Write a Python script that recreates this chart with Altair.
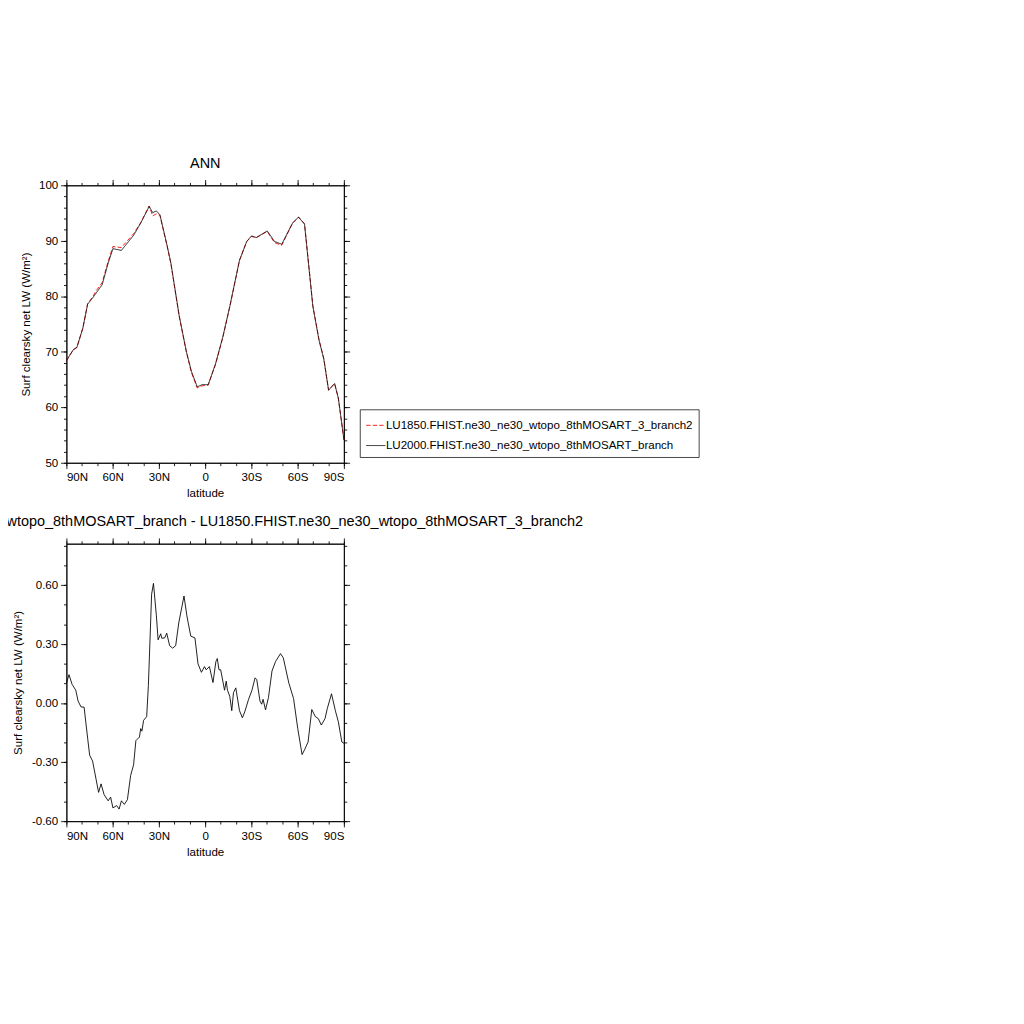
import altair as alt
import pandas as pd

lat_top = [90, 85.6, 83.3, 79.4, 76.3, 73.1, 70.8, 66.9, 63, 59.9, 54.4, 46.5, 41.9, 36.4, 34.1, 31.7, 29.4,
           24.7, 22.3, 16.9, 12.2, 9.0, 5.2, 2.0, -1.9, -6.6, -11.3, -15.9, -22.2, -26.9, -30, -33.1, -40.2,
           -44.9, -49.6, -56.6, -60.5, -64.4, -69.8, -73.8, -76.9, -80.0, -83.9, -86.3, -90]
lu2000 = [68.45, 70.4, 70.8, 74.3, 78.6, 79.7, 80.6, 82.1, 86.0, 88.6, 88.3, 91.0, 93.2, 96.2, 95.1, 95.4, 94.7,
          89.1, 86.0, 76.5, 70.0, 66.5, 63.7, 64.1, 64.1, 67.8, 72.6, 78.2, 86.5, 89.9, 90.9, 90.6, 91.8,
          89.9, 89.4, 93.2, 94.3, 93.0, 78.2, 72.1, 68.7, 63.1, 64.3, 61.7, 54.1]
lu1850 = [68.45, 70.4, 70.8, 74.3, 78.7, 79.9, 81.0, 82.5, 86.3, 89.0, 88.8, 91.3, 93.3, 96.3, 94.5, 94.9, 94.6,
          89.0, 85.9, 76.4, 69.9, 66.3, 63.5, 63.9, 64.0, 67.7, 72.5, 78.1, 86.5, 89.9, 90.8, 90.6, 91.7,
          89.7, 89.2, 93.2, 94.3, 93.1, 78.3, 72.2, 68.8, 63.1, 64.3, 61.7, 54.2]

lat_diff = [90, 88.4, 86.4, 84.0, 82.5, 80.6, 78.6, 76.3, 75.0, 73.1, 69.2, 67.6, 65.6, 63, 61.4, 59.9, 57.5, 55.9,
            54.4, 52.5, 50.5, 48.4, 46.5, 45.0, 42.7, 41.9, 41.1, 40.0, 38.0, 36.9, 34.8, 33.6, 31.7, 30.6,
            28.9, 28.2, 26.3, 25.0, 23.1, 21.2, 19.2, 17.2, 13.8, 11.9, 11.1, 9.4, 6.7, 4.7, 2.5, 0.5, -0.6,
            -2.7, -5.0, -6.9, -7.8, -8.9, -10, -12.5, -13.6, -14.4, -15.9, -17.2, -18.3, -19.8, -22.2, -24.1,
            -25.6, -28.1, -30.3, -32.3, -33.4, -35.5, -36.6, -37.5, -39.1, -41, -43.3, -45.6, -48.8, -50.6,
            -54.2, -57.3, -60, -62.8, -64.4, -66.7, -69.1, -71.4, -73.3, -75.3, -77.7, -79.2, -81.9, -84.4,
            -86.3, -88.6, -90]
diff = [0.103, 0.145, 0.096, 0.066, 0.011, -0.019, -0.02, -0.178, -0.264, -0.294, -0.453, -0.41, -0.465, -0.496,
        -0.477, -0.532, -0.52, -0.538, -0.496, -0.514, -0.49, -0.367, -0.313, -0.19, -0.172, -0.129, -0.142,
        -0.087, -0.068, 0.09, 0.554, 0.609, 0.444, 0.322, 0.353, 0.33, 0.332, 0.356, 0.292, 0.28, 0.292, 0.408,
        0.545, 0.444, 0.41, 0.341, 0.332, 0.2, 0.157, 0.186, 0.17, 0.186, 0.105, 0.212, 0.227, 0.17, 0.17,
        0.066, 0.112, 0.066, 0.035, -0.038, 0.054, 0.078, -0.038, -0.074, -0.044, 0.02, 0.066, 0.129, 0.12,
        0.011, -0.005, 0.02, -0.034, 0.029, 0.164, 0.212, 0.252, 0.231, 0.103, 0.023, -0.129, -0.261, -0.237,
        -0.197, -0.032, -0.068, -0.078, -0.111, -0.078, -0.026, 0.048, -0.038, -0.093, -0.197, -0.204]

case_a = "LU1850.FHIST.ne30_ne30_wtopo_8thMOSART_3_branch2"
case_b = "LU2000.FHIST.ne30_ne30_wtopo_8thMOSART_branch"

top_df = pd.concat([
    pd.DataFrame({"lat": lat_top, "val": lu1850, "case": case_a, "o": 0}),
    pd.DataFrame({"lat": lat_top, "val": lu2000, "case": case_b, "o": 1}),
])
diff_df = pd.DataFrame({"lat": lat_diff, "val": diff})

FONT = "Liberation Sans"
W = H = 384
latexpr = "datum.value > 0 ? datum.value + 'N' : (datum.value < 0 ? (-datum.value) + 'S' : '0')"
xscale = alt.Scale(domain=[90, -90], nice=False)


def frame(data, ydomain, ymaj, ymin, ylabexpr, ytitle, line, title):
    ys = alt.Scale(domain=ydomain, nice=False, zero=False)
    xmaj = [90, 60, 30, 0, -30, -60, -90]
    xmin = list(range(90, -91, -10))
    base_ax = dict(labelFont=FONT, titleFont=FONT, labelFontSize=16, titleFontSize=16,
                   titleFontWeight="normal", grid=False, domainColor="black", tickColor="black",
                   labelColor="black", titleColor="black", domainWidth=1.2, tickWidth=1.2)
    main = line.encode(
        x=alt.X("lat:Q", scale=xscale, axis=alt.Axis(values=xmaj, labelExpr=latexpr, title="latitude",
                                                      tickSize=8, labelPadding=4, titlePadding=6, **base_ax)),
        y=alt.Y("val:Q", scale=ys, axis=alt.Axis(values=ymaj, labelExpr=ylabexpr, title=ytitle,
                                                  tickSize=8, labelPadding=4, titlePadding=10, **base_ax)),
    )
    layers = [main]
    for orient_x, orient_y, xv, yv, ts in [("top", "right", xmaj, ymaj, 8),
                                           ("bottom", "left", xmin, ymin, 4),
                                           ("top", "right", xmin, ymin, 4)]:
        layers.append(alt.Chart(data).mark_point(opacity=0).encode(
            x=alt.X("lat:Q", scale=xscale, axis=alt.Axis(orient=orient_x, values=xv, labels=False, title=None,
                                                          tickSize=ts, grid=False, tickColor="black",
                                                          domainColor="black", tickWidth=1.2, domainWidth=1.2)),
            y=alt.Y("val:Q", scale=ys, axis=alt.Axis(orient=orient_y, values=yv, labels=False, title=None,
                                                      tickSize=ts, grid=False, tickColor="black",
                                                      domainColor="black", tickWidth=1.2, domainWidth=1.2)),
        ))
    return alt.layer(*layers).resolve_axis(x="independent", y="independent").properties(
        width=W, height=H,
        title=alt.TitleParams(title, font=FONT, fontSize=20, fontWeight="normal", color="black", offset=12))


top_line = alt.Chart(top_df).mark_line(strokeWidth=1.2).encode(
    color=alt.Color("case:N", scale=alt.Scale(domain=[case_a, case_b], range=["red", "black"]),
                    legend=alt.Legend(title=None, orient="none", legendX=406, legendY=310,
                                      labelFont=FONT, labelFontSize=16, labelColor="black", labelLimit=0,
                                      symbolType="stroke", symbolSize=700, symbolStrokeWidth=1.2,
                                      strokeColor="black", padding=8, rowPadding=6, labelOffset=0,
                                      fillColor="white")),
    strokeDash=alt.StrokeDash("case:N", scale=alt.Scale(domain=[case_a, case_b], range=[[6, 3], [1, 0]]),
                              legend=None),
    order="o:Q",
)
top = frame(top_df, [50, 100], [50, 60, 70, 80, 90, 100], list(range(50, 101, 2)),
            "datum.value", "Surf clearsky net LW (W/m²)", top_line, "ANN")

bot_line = alt.Chart(diff_df).mark_line(strokeWidth=1.2, color="black")
bot = frame(diff_df, [-0.6, 0.81], [-0.6, -0.3, 0, 0.3, 0.6],
            [-0.6, -0.5, -0.4, -0.3, -0.2, -0.1, 0, 0.1, 0.2, 0.3, 0.4, 0.5, 0.6, 0.7, 0.8],
            "replace(format(datum.value, '.2f'), '\u2212', '-')", "Surf clearsky net LW (W/m²)", bot_line,
            case_b + " - " + case_a)

chart = alt.vconcat(top, bot, spacing=112, bounds="flush").properties(
    autosize=alt.AutoSizeParams(type="none"),
    padding={"left": 81, "top": 53, "right": 930, "bottom": 950},
).configure_view(stroke="black", strokeWidth=1.2).configure(background="white")

chart.save("out.html", embed_options={"renderer": "svg", "actions": False})
